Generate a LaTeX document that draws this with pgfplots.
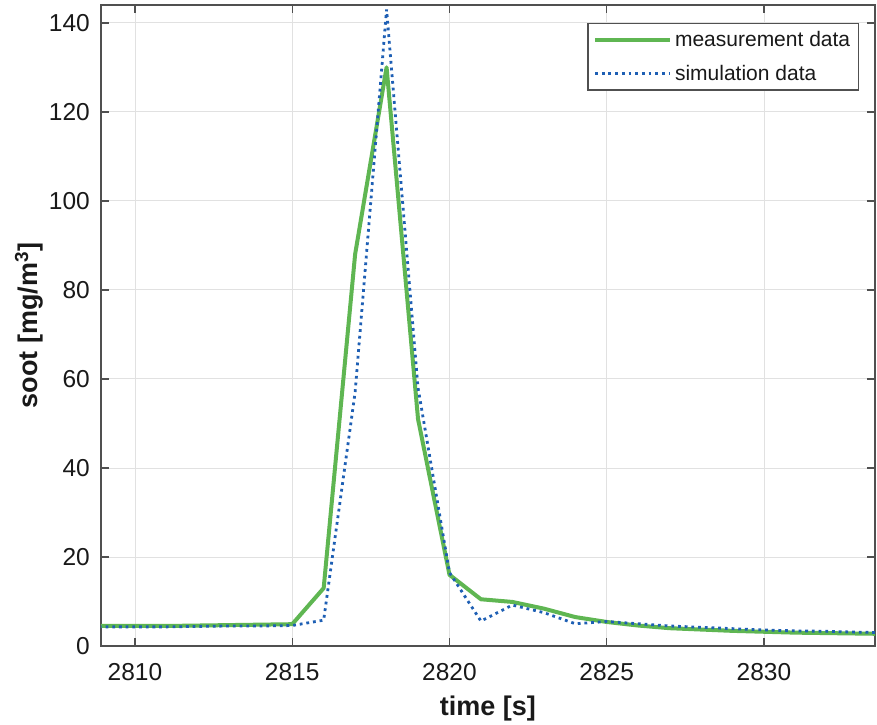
\documentclass[border=0pt]{standalone}
\usepackage{fontspec}
\setmainfont{Liberation Sans}
\usepackage{pgfplots}
\pgfplotsset{compat=1.18}
\definecolor{mgreen}{RGB}{95,182,82}
\definecolor{sblue}{RGB}{30,95,180}
\definecolor{axgray}{RGB}{80,80,80}
\definecolor{grgray}{RGB}{225,225,225}
\begin{document}
\begin{tikzpicture}
\begin{axis}[
  scale only axis,
  width=774pt, height=641pt,
  xmin=2808.92, xmax=2833.53,
  ymin=0, ymax=144,
  xtick={2810,2815,2820,2825,2830},
  ytick={0,20,40,60,80,100,120,140},
  /pgf/number format/assume math mode=true,
  /pgf/number format/1000 sep={},
  grid=major,
  major grid style={draw=grgray, line width=0.9pt},
  axis line style={draw=axgray, line width=1.4pt},
  tick style={draw=axgray, line width=1.4pt},
  major tick length=8pt,
  tick align=inside,
  tick pos=both,
  tick label style={font=\fontsize{24.5}{28}\selectfont, text=black!90},
  xticklabel style={inner sep=0pt, yshift=-17pt},
  yticklabel style={inner sep=0pt, xshift=-11pt},
  xlabel={time [s]},
  ylabel={soot [mg/m\textsuperscript{3}]},
  xlabel style={font=\fontsize{27}{30}\selectfont\bfseries, text=black!90,
    at={(axis description cs:0.5,0)}, anchor=center, yshift=-63pt},
  ylabel style={font=\fontsize{27}{30}\selectfont\bfseries, text=black!90,
    at={(axis description cs:0,0.5)}, anchor=center, yshift=72pt},
  legend style={at={(0.979,0.972)}, anchor=north east, font=\fontsize{21}{24}\selectfont,
    draw=axgray, line width=1.2pt, inner xsep=5pt, inner ysep=5pt, row sep=11pt,
    nodes={inner sep=3pt, text=black!90}},
  legend cell align=left,
  legend image code/.code={\draw[#1] (0pt,0pt) -- (75pt,0pt);},
]
\addplot[mgreen, line width=4pt, line join=round] coordinates {
(2808,4.5) (2809,4.5) (2810,4.5) (2811,4.5) (2812,4.6) (2813,4.7) (2814,4.8) (2815,4.9)
(2816,13) (2817,88) (2818,130) (2819,51) (2820,16) (2821,10.5) (2822,9.9) (2823,8.4)
(2824,6.5) (2825,5.4) (2826,4.6) (2827,4.0) (2828,3.7) (2829,3.4) (2830,3.2) (2831,3.0)
(2832,2.9) (2833,2.8) (2834,2.7)
};
\addlegendentry{measurement data}
\addplot[sblue, line width=2.8pt, dash pattern=on 2.8pt off 3.9pt] coordinates {
(2808,4.3) (2809,4.3) (2810,4.3) (2811,4.3) (2812,4.4) (2813,4.5) (2814,4.5) (2815,4.6)
(2816,5.8) (2817,57) (2818,143) (2819,58) (2820,16.5) (2821,5.6) (2822,9.2) (2823,7.5)
(2824,5.0) (2825,5.5) (2826,5.0) (2827,4.5) (2828,4.2) (2829,3.9) (2830,3.6) (2831,3.4)
(2832,3.3) (2833,3.1) (2834,3.0)
};
\addlegendentry{simulation data}
\end{axis}
\pgfresetboundingbox
\path[use as bounding box] (-101pt,-78pt) rectangle (776pt,646pt);
\end{tikzpicture}
\end{document}
